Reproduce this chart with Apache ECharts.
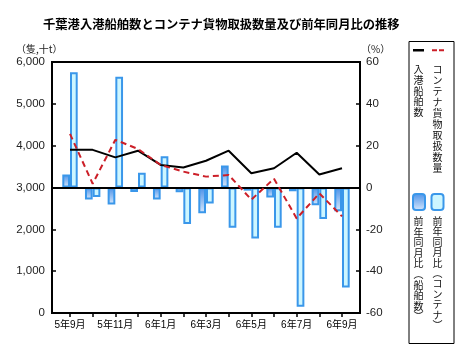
<!DOCTYPE html>
<html>
<head>
<meta charset="utf-8">
<script src="https://cdn.jsdelivr.net/npm/echarts@6/dist/echarts.min.js"></script>
<style>
html,body{margin:0;padding:0;background:#fff;}
#chart{width:470px;height:356px;}
</style>
</head>
<body>
<div id="chart"></div>
<script>
// ---- data ----
const categories = ['5年9月','5年10月','5年11月','5年12月','6年1月','6年2月','6年3月','6年4月','6年5月','6年6月','6年7月','6年8月','6年9月'];
const shipCount   = [3900,3900,3720,3880,3540,3480,3640,3880,3340,3460,3830,3310,3460];
const cargoVolume = [4280,3090,4140,3920,3540,3380,3260,3300,2710,3210,2260,2860,2310];
const shipYoY  = [6.2,-5.7,-8.1,-2.1,-5.7,-2.3,-12.3,10.5,-1.5,-4.8,-1.8,-8.5,-11.3];
const cargoYoY = [55.1,-4.5,52.9,7.0,15.0,-17.5,-7.6,-19.3,-24.4,-19.3,-57.0,-15.0,-47.8];
const leftTicks = {min:0, max:6000, interval:1000};
const rightTicks = {min:-60, max:60, interval:20};
const seriesNames = ['入港船舶数','コンテナ貨物取扱数量','前年同月比（船舶数）','前年同月比（コンテナ）'];
const legendLabels = ['入港船舶数','コンテナ貨物取扱数量','前年同月比︵船舶数︶','前年同月比︵コンテナ︶'];
const titleText = '千葉港入港船舶数とコンテナ貨物取扱数量及び前年同月比の推移';
const leftUnit = '（隻,十t）';
const rightUnit = '（%）';

const FONT = '"Liberation Sans", "Noto Sans CJK JP", sans-serif';
const CJK = '"Noto Sans CJK JP", sans-serif';
const vert = s => s.split('').join('\n');

const chart = echarts.init(document.getElementById('chart'), null, {renderer:'canvas'});
const shipFill = new echarts.graphic.LinearGradient(0,0,0,1,[{offset:0,color:'#4a91e8'},{offset:1,color:'#d8e8fc'}]);
const legendBase = {orient:'horizontal', padding:0, itemGap:0, selectedMode:false, formatter:()=>'', textStyle:{fontSize:1}};

chart.setOption({
  animation:false,
  backgroundColor:'#fff',
  title:[
    {text:titleText, left:38, top:13, textStyle:{fontFamily:CJK, fontWeight:'bold', fontSize:12.3, color:'#000'}},
    {text:leftUnit, left:11, top:39, textStyle:{fontFamily:CJK, fontWeight:'normal', fontSize:10, color:'#222'}},
    {text:rightUnit, left:356, top:39, textStyle:{fontFamily:CJK, fontWeight:'normal', fontSize:10, color:'#222'}}
  ],
  grid:[
    {left:52, right:110, top:62, bottom:43, show:true, borderColor:'#000', borderWidth:2, backgroundColor:'transparent'},
    {left:58.67, right:116.67, top:62, bottom:43}
  ],
  legend:[
    Object.assign({}, legendBase, {data:[{name:seriesNames[0], icon:'rect'}], left:413, top:49, itemWidth:11, itemHeight:2.5}),
    Object.assign({}, legendBase, {data:[{name:seriesNames[1], icon:'path://M0,0h5v2h-5z M7,0h5v2h-5z'}], left:432, top:49, itemWidth:12, itemHeight:2.5}),
    Object.assign({}, legendBase, {data:[seriesNames[2]], left:412, top:193, itemWidth:12, itemHeight:16}),
    Object.assign({}, legendBase, {data:[seriesNames[3]], left:430.5, top:193, itemWidth:12, itemHeight:16})
  ],
  xAxis:[
    {gridIndex:0, type:'category', data:[''], z:5,
     axisLine:{show:true, onZero:true, onZeroAxisIndex:1, lineStyle:{color:'#000', width:2}},
     axisTick:{show:false}, axisLabel:{show:false}, splitLine:{show:false}},
    {gridIndex:1, type:'category', data:categories, boundaryGap:true,
     axisLine:{show:true, onZero:false, lineStyle:{color:'#000', width:2}},
     axisTick:{show:true, alignWithLabel:true, interval:0, length:4, inside:false, lineStyle:{color:'#000', width:1.5}},
     axisLabel:{interval:1, margin:7, fontSize:10, color:'#000', fontFamily:FONT},
     splitLine:{show:false}}
  ],
  yAxis:[
    {gridIndex:0, type:'value', position:'left', min:leftTicks.min, max:leftTicks.max, interval:leftTicks.interval,
     axisLine:{show:true, lineStyle:{color:'#000', width:2}},
     axisTick:{show:true, inside:true, length:4, lineStyle:{color:'#000', width:1.5}},
     axisLabel:{margin:7, fontSize:11.5, color:'#222', fontFamily:FONT, formatter:v=>v.toLocaleString('en-US')},
     splitLine:{show:false}},
    {gridIndex:0, type:'value', position:'right', min:rightTicks.min, max:rightTicks.max, interval:rightTicks.interval,
     axisLine:{show:true, lineStyle:{color:'#000', width:2}},
     axisTick:{show:true, inside:true, length:4, lineStyle:{color:'#000', width:1.5}},
     axisLabel:{margin:6, fontSize:11.5, color:'#222', fontFamily:FONT},
     splitLine:{show:false}},
    {gridIndex:1, type:'value', position:'left', min:leftTicks.min, max:leftTicks.max, interval:leftTicks.interval, show:false, splitLine:{show:false}},
    {gridIndex:1, type:'value', position:'right', min:rightTicks.min, max:rightTicks.max, interval:rightTicks.interval, show:false, splitLine:{show:false}}
  ],
  graphic:[
    {type:'rect', left:406.5, top:39, shape:{width:45, height:302}, style:{fill:'none', stroke:'#000', lineWidth:1}, z:1},
    {type:'text', left:413.5, top:64, style:{text:vert(legendLabels[0]), font:'10px '+CJK, lineHeight:10.7, fill:'#111', textAlign:'left'}},
    {type:'text', left:432.5, top:64, style:{text:vert(legendLabels[1]), font:'10px '+CJK, lineHeight:11, fill:'#111', textAlign:'left'}},
    {type:'text', left:413.5, top:216, style:{text:vert(legendLabels[2]), font:'10px '+CJK, lineHeight:10.6, fill:'#111', textAlign:'left'}},
    {type:'text', left:432.5, top:216, style:{text:vert(legendLabels[3]), font:'10px '+CJK, lineHeight:10.4, fill:'#111', textAlign:'left'}}
  ],
  series:[
    {name:seriesNames[0], type:'line', xAxisIndex:1, yAxisIndex:2, data:shipCount, symbol:'none', z:6,
     lineStyle:{color:'#000', width:2}, itemStyle:{color:'#000'}},
    {name:seriesNames[1], type:'line', xAxisIndex:1, yAxisIndex:2, data:cargoVolume, symbol:'none', z:6,
     lineStyle:{color:'#cc1f28', width:2, type:[6,4]}, itemStyle:{color:'#cc1f28'}},
    {name:seriesNames[2], type:'bar', xAxisIndex:1, yAxisIndex:3, data:shipYoY, barWidth:7.7, barGap:'0%', z:2,
     itemStyle:{color:shipFill, borderColor:'#3a97ea', borderWidth:2}},
    {name:seriesNames[3], type:'bar', xAxisIndex:1, yAxisIndex:3, data:cargoYoY, barWidth:7.7, barGap:'0%', z:2,
     itemStyle:{color:'#cdf6ff', borderColor:'#3a97ea', borderWidth:2}}
  ]
});
</script>
</body>
</html>
